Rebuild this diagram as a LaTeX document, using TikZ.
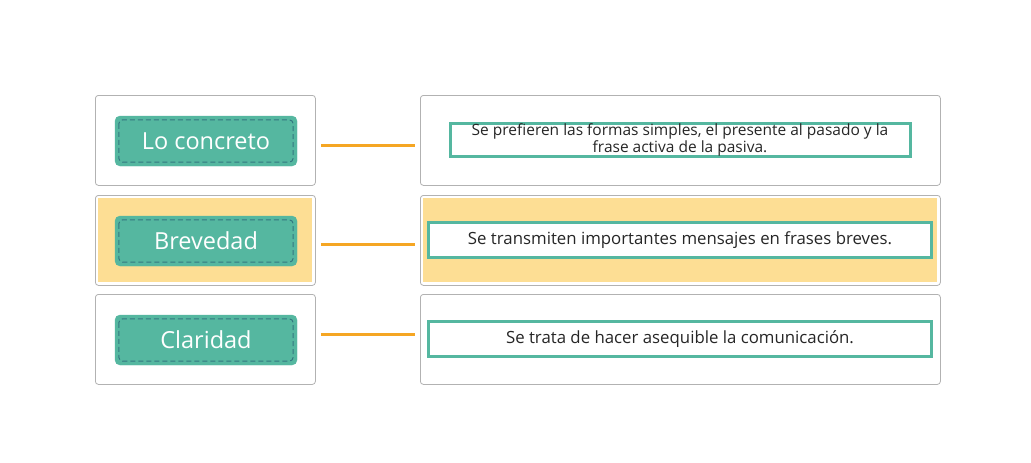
\documentclass[tikz,border=0pt]{standalone}
\usepackage{fontspec}
\setmainfont{Open Sans}
\usepackage{tikz}
\usetikzlibrary{positioning}
\definecolor{tealtag}{RGB}{85,183,160}
\definecolor{tealdash}{RGB}{52,120,128}
\definecolor{cardgray}{RGB}{178,178,178}
\definecolor{hilite}{RGB}{253,222,148}
\definecolor{linkorange}{RGB}{245,166,35}

\begin{document}
\begin{tikzpicture}[x=1pt, y=-1pt,
    card/.style={draw=cardgray, fill=white, rounded corners=3pt, line width=0.8pt,
      minimum height=90pt, anchor=north west, inner sep=0pt},
    tag/.style={fill=tealtag, draw=tealtag, rounded corners=5pt, minimum width=182pt,
      minimum height=50pt, inner sep=0pt, text=white, font=\fontsize{23.5}{26}\selectfont},
    answer/.style={draw=tealtag, fill=white, line width=3pt, inner sep=0pt,
      align=center, text=black!85, font=\fontsize{16.8}{18}\selectfont},
    link/.style={draw=linkorange, line width=2.6pt, shorten <=5pt, shorten >=5pt}]
    \useasboundingbox (0,0) rectangle (1031,463);
    % Left column
    \node[card, minimum width=220pt] (lc1) at (95,95) {};
    \node[card, minimum width=220pt] (lc2) at (95,195) {};
    \node[card, minimum width=220pt] (lc3) at (95,294) {};
    % Right column
    \node[card, minimum width=520pt] (rc1) at (420,95) {};
    \node[card, minimum width=520pt] (rc2) at (420,195) {};
    \node[card, minimum width=520pt] (rc3) at (420,294) {};
    % Highlighted row
    \fill[hilite] (98,198) rectangle (312,282);
    \fill[hilite] (423,198) rectangle (937,282);
    % Tags
    \node[tag] (t1) at (206,141) {Lo concreto};
    \node[tag] (t2) at (206,241) {Brevedad};
    \node[tag] (t3) at (206,340) {Claridad};
    \foreach \t in {t1,t2,t3}
      \draw[tealdash, line width=1pt, dash pattern=on 5pt off 3pt, rounded corners=4pt]
        ([shift={(4pt,-4pt)}]\t.north west) rectangle ([shift={(-4pt,4pt)}]\t.south east);
    % Answers
    \node[answer, minimum width=460pt, minimum height=33pt,
      font=\fontsize{15.5}{12.5}\selectfont] (a1) at (680,140)
      {Se prefieren las formas simples, el presente al pasado y la\\frase activa de la pasiva.};
    \node[answer, minimum width=503pt, minimum height=35pt] (a2) at (680,240)
      {Se transmiten importantes mensajes en frases breves.};
    \node[answer, minimum width=503pt, minimum height=35pt] (a3) at (680,339)
      {Se trata de hacer asequible la comunicación.};
    % Links
    \draw[link] ([yshift=-5pt]lc1.east) -- ([yshift=-5pt]rc1.west);
    \draw[link] ([yshift=-4pt]lc2.east) -- ([yshift=-4pt]rc2.west);
    \draw[link] ([yshift=5pt]lc3.east) -- ([yshift=5pt]rc3.west);
\end{tikzpicture}
\end{document}
